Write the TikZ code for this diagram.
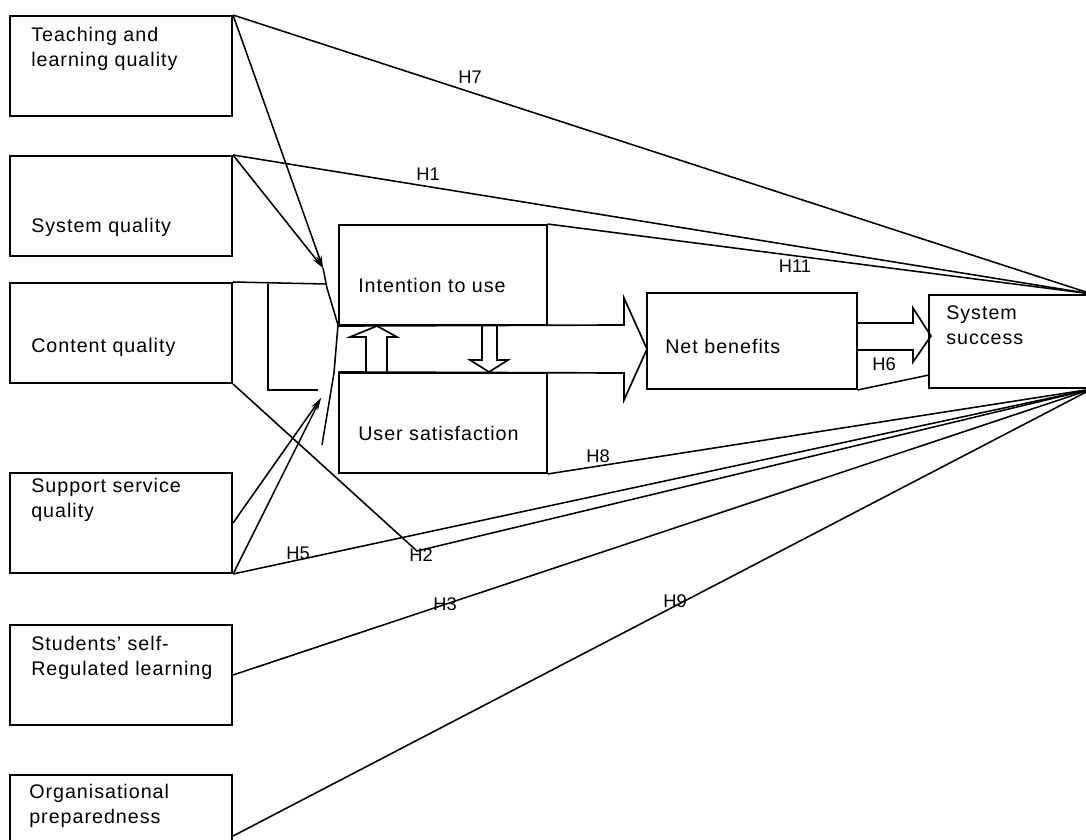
\documentclass[tikz,border=0pt]{standalone}
\usepackage{fontspec}
\setmainfont{Liberation Sans}
\newfontfamily\boxfont{Liberation Sans}[LetterSpace=5]
\usepackage{tikz}
\usetikzlibrary{arrows.meta, calc}
\definecolor{ink}{RGB}{0,0,0}
\tikzset{
  inbox/.style={rectangle, draw=ink, line width=1.4pt,
    minimum width=5.55cm, minimum height=2.5cm, inner sep=0pt},
  midbox/.style={rectangle, draw=ink, line width=1.4pt,
    minimum width=5.175cm, minimum height=2.5cm, inner sep=0pt},
  boxtext/.style={anchor=west, align=left, inner sep=0pt,
    font=\boxfont\fontsize{14}{18}\selectfont},
  hyp/.style={inner sep=0pt, font=\fontsize{13}{15}\selectfont},
  link/.style={line width=1.1pt, color=ink},
  arrow/.style={-{Stealth[length=9pt, width=4pt]}, line width=1.1pt, color=ink},
  fat/.style={line width=1.2pt, color=ink, line join=miter}
}
\begin{document}
\begin{tikzpicture}[x=0.025cm, y=-0.025cm]
  \useasboundingbox (0,0) rectangle (1086,840);
  \clip (0,0) rectangle (1086,840);
  % Input factors
  \node[inbox] (tlq)  at (121,66)  {};
  \node[inbox] (sysq) at (121,206) {};
  \node[inbox] (cq)   at (121,333) {};
  \node[inbox] (ssq)  at (121,523) {};
  \node[inbox] (srl)  at (121,675) {};
  \node[inbox] (orgp) at (121,825) {};
  \node[boxtext] (tlq-t)  at (31,49)  {Teaching and\\learning quality};
  \node[boxtext] (sysq-t) at (31,227) {System quality};
  \node[boxtext] (cq-t)   at (31,347) {Content quality};
  \node[boxtext] (ssq-t)  at (31,500) {Support service\\quality};
  \node[boxtext] (srl-t)  at (31,658) {Students’ self-\\Regulated learning};
  \node[boxtext] (orgp-t) at (29,806) {Organisational\\preparedness};
  % Use, satisfaction, benefits, success
  \node[midbox] (itu)  at (443,275) {};
  \node[midbox] (usat) at (443,423) {};
  \node[rectangle, draw=ink, line width=1.4pt, minimum width=5.225cm,
    minimum height=2.4cm] (nb) at (752,341) {};
  \node[rectangle, draw=ink, line width=1.4pt, minimum width=4.05cm,
    minimum height=2.325cm] (ss) at (1010,341.5) {};
  \node[boxtext] (itu-t)  at (358,285) {Intention to use};
  \node[boxtext] (usat-t) at (358,433) {User satisfaction};
  \node[boxtext] (nb-t)   at (665,346) {Net benefits};
  \node[boxtext] (ss-t)   at (946,325) {System\\success};
  % Block arrows
  \coordinate (bigtip) at (647,349);
  \coordinate (smalltip) at (931,336);
  \draw[fat] (itu.south west) -- (624,325) -- (624,298) -- (bigtip)
    -- (624,400) -- (624,373) -- (usat.north west);
  \draw[fat] ($(nb.east)+(0,-18)$) -- (913,323) -- (913,308) -- (smalltip)
    -- (913,362) -- (913,350) -- ($(nb.east)+(0,9)$);
  \draw[fat] (366,373) -- (366,337) -- (350,337) -- (377,326)
    -- (397,337) -- (387,337) -- (387,373);
  \draw[fat] (482,325) -- (482,360) -- (470,360) -- (489,372)
    -- (508,360) -- (497,360) -- (497,325);
  % Tail of the block arrow
  \coordinate (jtop) at (323,268);
  \coordinate (jbot) at (321,398);
  \coordinate (cqend) at (326,284);
  \draw[link] (jtop) -- (327,288) -- (338,325) -- (334,373) -- (322,445);
  \draw[arrow] (tlq.north east) -- (jtop);
  \draw[arrow] (sysq.north east) -- (jtop);
  \draw[arrow] (ssq.east) -- (jbot);
  \draw[arrow] (ssq.south east) -- (jbot);
  \draw[link] (cq.north east) -- (cqend);
  \draw[link] (268,284) |- (318,390);
  % Hypotheses to system success
  \coordinate (h2bend) at (417,551);
  \coordinate (h6end) at (929,375);
  \draw[link] (tlq.north east) -- (ss.north east);
  \draw[link] (sysq.north east) -- (ss.north east);
  \draw[link] (itu.north east) -- (ss.north east);
  \draw[link] (usat.south east) -- (ss.south east);
  \draw[link] (ssq.south east) -- (ss.south east);
  \draw[link] (cq.south east) -- (h2bend) -- (ss.south east);
  \draw[link] (srl.east) -- (ss.south east);
  \draw[link] ($(orgp.east)+(0,11)$) -- (ss.south east);
  \draw[link] (nb.south east) -- (h6end);
  % Hypothesis labels
  \node[hyp] (h7)  at (470,77)  {H7};
  \node[hyp] (h1)  at (428,174) {H1};
  \node[hyp] (h11) at (795,266) {H11};
  \node[hyp] (h6)  at (884,364) {H6};
  \node[hyp] (h8)  at (598,456) {H8};
  \node[hyp] (h5)  at (298,553) {H5};
  \node[hyp] (h2)  at (421,555) {H2};
  \node[hyp] (h3)  at (445,604) {H3};
  \node[hyp] (h9)  at (675,601) {H9};
\end{tikzpicture}
\end{document}
